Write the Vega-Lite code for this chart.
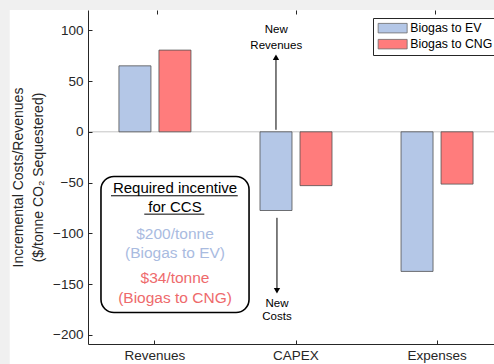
{
  "$schema": "https://vega.github.io/schema/vega-lite/v6.json",
  "width": 416,
  "height": 334,
  "autosize": {"type": "none"},
  "padding": {"left": 88, "top": 10, "right": 0, "bottom": 20},
  "background": "#f0f0f0",
  "config": {
    "font": "Liberation Sans",
    "view": {"stroke": "#262626", "strokeWidth": 1},
    "axis": {"zindex": 2, "domainColor": "#262626", "tickColor": "#262626", "labelColor": "#262626", "titleColor": "#262626", "grid": false, "labelFont": "Liberation Sans", "titleFont": "Liberation Sans"},
    "legend": {"zindex": 2}
  },
  "datasets": {
    "bars": [
      {"category": "Revenues", "series": "Biogas to EV", "value": 65},
      {"category": "Revenues", "series": "Biogas to CNG", "value": 80.5},
      {"category": "CAPEX", "series": "Biogas to EV", "value": -77.5},
      {"category": "CAPEX", "series": "Biogas to CNG", "value": -53},
      {"category": "Expenses", "series": "Biogas to EV", "value": -137.5},
      {"category": "Expenses", "series": "Biogas to CNG", "value": -51.5}
    ],
    "panel": [{"x": -0.03, "x2": 3.6, "y": 120, "y2": -240}],
    "box": [{"x": 0.617, "x2": 1.667, "y": -44, "y2": -178}],
    "texts": [
      {"group": "title", "x": 1.142, "y": -55.5, "label": "Required incentive"},
      {"group": "title", "x": 1.142, "y": -74.2, "label": "for CCS"},
      {"group": "ev", "x": 1.142, "y": -100.5, "label": "$200/tonne"},
      {"group": "ev", "x": 1.142, "y": -119.5, "label": "(Biogas to EV)"},
      {"group": "cng", "x": 1.142, "y": -144.1, "label": "$34/tonne"},
      {"group": "cng", "x": 1.142, "y": -163.8, "label": "(Biogas to CNG)"},
      {"group": "arrow", "x": 1.86, "y": 100.5, "label": "New"},
      {"group": "arrow", "x": 1.86, "y": 85, "label": "Revenues"},
      {"group": "arrow", "x": 1.865, "y": -169.4, "label": "New"},
      {"group": "arrow", "x": 1.865, "y": -182.2, "label": "Costs"}
    ],
    "underlines": [
      {"x": 0.688, "x2": 1.587, "y": -63},
      {"x": 0.924, "x2": 1.35, "y": -81.1}
    ],
    "arrows": [
      {"x": 1.858, "y": 2, "y2": 74, "dir": "up", "tip": 73.5},
      {"x": 1.865, "y": -84.7, "y2": -157, "dir": "down", "tip": -156.5}
    ]
  },
  "layer": [
    {
      "data": {"name": "panel"},
      "mark": {"type": "rect", "fill": "white", "stroke": null},
      "encoding": {
        "x": {"field": "x", "type": "quantitative", "scale": {"domain": [0.525, 3.475], "nice": false, "zero": false}, "axis": null},
        "x2": {"field": "x2"},
        "y": {"field": "y", "type": "quantitative"},
        "y2": {"field": "y2"}
      }
    },
    {
      "data": {"values": [{}]},
      "mark": {"type": "rule", "color": "#c4c4c4", "strokeWidth": 1},
      "encoding": {"y": {"datum": 0, "type": "quantitative"}}
    },
    {
      "data": {"name": "bars"},
      "mark": {"type": "bar", "stroke": "#505050", "strokeWidth": 0.8},
      "encoding": {
        "x": {
          "field": "category", "type": "nominal", "sort": ["Revenues", "CAPEX", "Expenses"],
          "scale": {"paddingInner": 0.4326, "paddingOuter": 0.191},
          "axis": {"zindex": 2, "title": null, "labelAngle": 0, "labelFontSize": 13.5, "tickSize": -4, "labelPadding": 8, "domainColor": "#262626"}
        },
        "xOffset": {
          "field": "series", "type": "nominal", "sort": ["Biogas to EV", "Biogas to CNG"],
          "scale": {"paddingInner": 0.2, "paddingOuter": 0.1}
        },
        "y": {
          "field": "value", "type": "quantitative",
          "scale": {"domain": [-209, 120], "nice": false, "zero": false},
          "axis": {
            "zindex": 2,
            "values": [-200, -150, -100, -50, 0, 50, 100],
            "labelFontSize": 13.5, "tickSize": -4, "labelPadding": 9,
            "title": ["Incremental Costs/Revenues", "($/tonne CO₂ Sequestered)"],
            "titleFontSize": 14, "titleFontWeight": "normal", "titlePadding": 7, "titleLineHeight": 20
          }
        },
        "color": {
          "field": "series", "type": "nominal",
          "scale": {"domain": ["Biogas to EV", "Biogas to CNG"], "range": ["#b4c7e7", "#ff7c7c"]},
          "legend": {
            "zindex": 2,
            "title": null, "orient": "none", "legendX": 285, "legendY": 8, "direction": "vertical",
            "symbolType": "M-1,-0.95H4.8V0.95H-1Z", "symbolSize": 100,
            "symbolStrokeColor": "#6a6a6a", "symbolStrokeWidth": 0.8, "symbolOpacity": 1,
            "labelFontSize": 12.3, "labelColor": "#000000", "labelOffset": 21,
            "padding": 4, "rowPadding": 2, "strokeColor": "#262626", "fillColor": "white"
          }
        }
      }
    },
    {
      "data": {"name": "box"},
      "mark": {"type": "rect", "fill": "white", "stroke": "#000000", "strokeWidth": 1.6, "cornerRadius": 13},
      "encoding": {
        "x": {"field": "x", "type": "quantitative", "scale": {"domain": [0.525, 3.475], "nice": false, "zero": false}, "axis": null},
        "x2": {"field": "x2"},
        "y": {"field": "y", "type": "quantitative"},
        "y2": {"field": "y2"}
      }
    },
    {
      "data": {"name": "underlines"},
      "mark": {"type": "rule", "color": "#000000", "strokeWidth": 1},
      "encoding": {
        "x": {"field": "x", "type": "quantitative", "scale": {"domain": [0.525, 3.475], "nice": false, "zero": false}, "axis": null},
        "x2": {"field": "x2"},
        "y": {"field": "y", "type": "quantitative"}
      }
    },
    {
      "data": {"name": "texts"},
      "transform": [{"filter": "datum.group === 'title'"}],
      "mark": {"type": "text", "fontSize": 15, "color": "#000000", "align": "center", "baseline": "middle"},
      "encoding": {
        "x": {"field": "x", "type": "quantitative", "scale": {"domain": [0.525, 3.475], "nice": false, "zero": false}, "axis": null},
        "y": {"field": "y", "type": "quantitative"},
        "text": {"field": "label"}
      }
    },
    {
      "data": {"name": "texts"},
      "transform": [{"filter": "datum.group === 'ev'"}],
      "mark": {"type": "text", "fontSize": 15.5, "color": "#a9bbdf", "align": "center", "baseline": "middle"},
      "encoding": {
        "x": {"field": "x", "type": "quantitative", "scale": {"domain": [0.525, 3.475], "nice": false, "zero": false}, "axis": null},
        "y": {"field": "y", "type": "quantitative"},
        "text": {"field": "label"}
      }
    },
    {
      "data": {"name": "texts"},
      "transform": [{"filter": "datum.group === 'cng'"}],
      "mark": {"type": "text", "fontSize": 15.5, "color": "#ee6a6c", "align": "center", "baseline": "middle"},
      "encoding": {
        "x": {"field": "x", "type": "quantitative", "scale": {"domain": [0.525, 3.475], "nice": false, "zero": false}, "axis": null},
        "y": {"field": "y", "type": "quantitative"},
        "text": {"field": "label"}
      }
    },
    {
      "data": {"name": "texts"},
      "transform": [{"filter": "datum.group === 'arrow'"}],
      "mark": {"type": "text", "fontSize": 11.5, "color": "#000000", "align": "center", "baseline": "middle"},
      "encoding": {
        "x": {"field": "x", "type": "quantitative", "scale": {"domain": [0.525, 3.475], "nice": false, "zero": false}, "axis": null},
        "y": {"field": "y", "type": "quantitative"},
        "text": {"field": "label"}
      }
    },
    {
      "data": {"name": "arrows"},
      "mark": {"type": "rule", "color": "#000000", "strokeWidth": 1},
      "encoding": {
        "x": {"field": "x", "type": "quantitative", "scale": {"domain": [0.525, 3.475], "nice": false, "zero": false}, "axis": null},
        "y": {"field": "y", "type": "quantitative"},
        "y2": {"field": "y2"}
      }
    },
    {
      "data": {"name": "arrows"},
      "mark": {"type": "point", "filled": true, "color": "#000000", "opacity": 1, "size": 40},
      "encoding": {
        "x": {"field": "x", "type": "quantitative", "scale": {"domain": [0.525, 3.475], "nice": false, "zero": false}, "axis": null},
        "y": {"field": "tip", "type": "quantitative"},
        "shape": {"field": "dir", "type": "nominal", "scale": {"domain": ["up", "down"], "range": ["triangle-up", "triangle-down"]}, "legend": null}
      }
    },
    {
      "data": {"name": "bars"},
      "mark": {"type": "point", "opacity": 0},
      "encoding": {
        "x": {
          "field": "category", "type": "nominal", "sort": ["Revenues", "CAPEX", "Expenses"],
          "scale": {"paddingInner": 0.4326, "paddingOuter": 0.191},
          "axis": {"zindex": 2, "orient": "top", "title": null, "labels": false, "domain": false, "tickSize": -4}
        },
        "y": {"field": "value", "type": "quantitative"}
      }
    }
  ],
  "resolve": {"scale": {"x": "independent", "shape": "independent"}}
}
